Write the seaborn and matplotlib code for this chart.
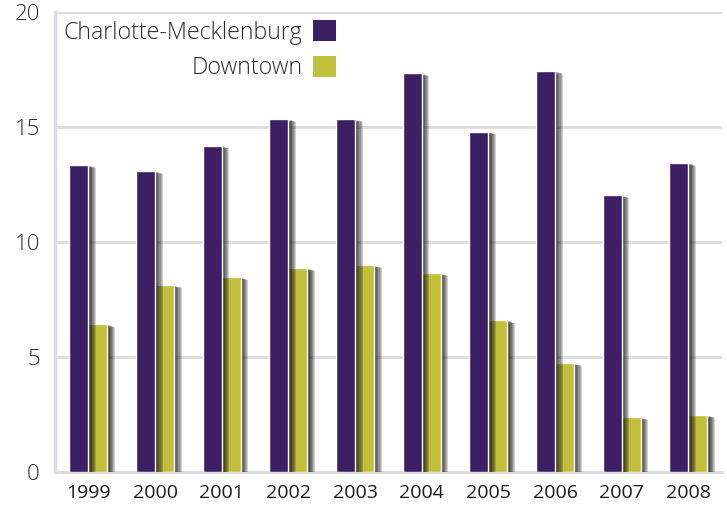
import numpy as np
import pandas as pd
import matplotlib
matplotlib.use("Agg")
import matplotlib.pyplot as plt
import matplotlib.patheffects as pe
from matplotlib.patches import Patch
import seaborn as sns

years = ["1999", "2000", "2001", "2002", "2003", "2004", "2005", "2006", "2007", "2008"]
charlotte = [13.35, 13.1, 14.2, 15.35, 15.35, 17.35, 14.8, 17.45, 12.05, 13.45]
downtown = [6.43, 8.13, 8.48, 8.87, 9.0, 8.65, 6.6, 4.74, 2.39, 2.48]
series = ["Charlotte-Mecklenburg", "Downtown"]
colors = ["#3d1f66", "#c1bf3c"]

df = pd.DataFrame({
    "Year": years * 2,
    "Value": charlotte + downtown,
    "Series": [series[0]] * len(years) + [series[1]] * len(years),
})

sns.set_style("white")
plt.rcParams["font.family"] = ["Open Sans", "DejaVu Sans"]
grid_c = "#dcdce0"

fig = plt.figure(figsize=(7.27, 5.08), dpi=100)
ax = fig.add_axes([0.0757, 0.0709, 0.917, 0.905])
sns.barplot(data=df, x="Year", y="Value", hue="Series", palette=colors,
            width=0.57, saturation=1, legend=False, ax=ax)

# soft drop shadow on bars, purple drawn above yellow so its shadow falls on it
shadow = [pe.SimplePatchShadow(offset=(o, -o * 0.35), shadow_rgbFace="#101010", alpha=0.19)
          for o in (0.8, 1.6, 2.4, 3.2, 4.0, 4.8, 5.6)]
n = len(years)
for i, p in enumerate(ax.patches):
    p.set_path_effects(shadow + [pe.Normal()])
    p.set_zorder(4 if i < n else 3)

ax.set_xlim(-0.5, 9.5)
ax.set_ylim(0, 20)
ax.set_yticks([0, 5, 10, 15, 20])
ax.yaxis.grid(True, color=grid_c, lw=2, zorder=0)
ax.set_axisbelow(True)
ax.set_xticks(np.arange(-0.5, 10, 1))
ax.set_xticklabels([])
ax.set_xticks(np.arange(10), minor=True)
ax.set_xticklabels(years, minor=True, fontsize=14, color="#1a1a1a")
ax.tick_params(axis="x", which="major", length=6, width=2, color=grid_c, direction="out")
ax.tick_params(axis="x", which="minor", length=0, pad=9)
ax.tick_params(axis="y", length=5, width=2, color=grid_c, pad=6, labelsize=16,
               labelcolor="#2a2a2a")
for lab in ax.get_yticklabels():
    lab.set_fontweight("light")
ax.set_xlabel("")
ax.set_ylabel("")
for s in ["top", "right"]:
    ax.spines[s].set_visible(False)
ax.spines["left"].set_color(grid_c)
ax.spines["left"].set_linewidth(2.5)
ax.spines["bottom"].set_color(grid_c)
ax.spines["bottom"].set_linewidth(2)

handles = [Patch(facecolor=c, edgecolor="none") for c in colors]
leg = ax.legend(handles, series, loc="upper left", bbox_to_anchor=(-0.018, 1.028),
                markerfirst=False, frameon=False, handlelength=1.0,
                handleheight=1.0, handletextpad=0.45, labelspacing=0.5,
                alignment="right", prop={"weight": "light", "size": 16.7})
for t in leg.get_texts():
    t.set_color("#2a2a2a")

fig.savefig("out.png", dpi=100)
